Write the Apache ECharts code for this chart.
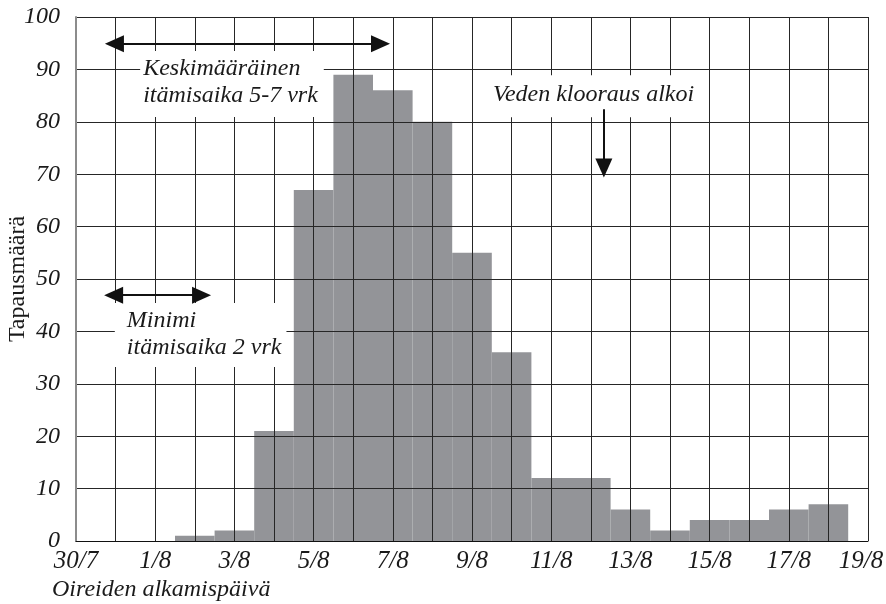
<!DOCTYPE html>
<html>
<head>
<meta charset="utf-8">
<script src="https://cdn.jsdelivr.net/npm/echarts@6/dist/echarts.min.js"></script>
<style>
    html, body {margin: 0; padding: 0; background: #fff;}
    #echart_cases {width: 886px; height: 604px;}
</style>
</head>
<body>
<div id="echart_cases"></div>
<script>
// päivät (x-akseli), 30/7 ... 19/8
var days = ['30/7','31/7','1/8','2/8','3/8','4/8','5/8','6/8','7/8','8/8','9/8','10/8',
            '11/8','12/8','13/8','14/8','15/8','16/8','17/8','18/8','19/8'];
// tapausmäärä per oireiden alkamispäivä
var cases = [0, 0, 0, 1, 2, 21, 67, 89, 86, 80, 55, 36, 12, 12, 6, 2, 4, 4, 6, 7, 0];

var serif = '"Liberation Serif", "DejaVu Serif", serif';

initCasesChart();

//初始化 histogram
function initCasesChart(){
    var myChart = echarts.init(document.getElementById('echart_cases'));

    var barData = [];
    for (var i = 0; i < days.length; i++) {
        barData.push([i, cases[i]]);
    }

    var noteLabel = {
        show: true,
        position: 'inside',
        align: 'left',
        verticalAlign: 'top',
        fontFamily: serif,
        fontStyle: 'italic',
        fontSize: 24,
        lineHeight: 27,
        color: '#1a1a1a',
        backgroundColor: '#fff'
    };

    var option = {
        animation: false,
        title: {
            text: 'Oireiden alkamispäivä',
            left: 52,
            top: 578,
            padding: 0,
            textStyle: {
                fontFamily: serif,
                fontStyle: 'italic',
                fontWeight: 'normal',
                fontSize: 24,
                color: '#1a1a1a'
            }
        },
        grid: {
            left: 76,
            right: 18,
            top: 17,
            bottom: 63,
            containLabel: false,
            outerBoundsMode: 'none'
        },
        xAxis: {
            type: 'value',
            min: 0,
            max: 20,
            interval: 1,
            axisLine: {show: true, lineStyle: {color: '#111', width: 1}},
            axisTick: {show: false},
            axisLabel: {
                margin: 8,
                fontFamily: serif,
                fontStyle: 'italic',
                fontSize: 25,
                color: '#1a1a1a',
                formatter: function (v) {
                    if (v % 2 !== 0) {
                        return '';
                    }
                    // viimeinen vähän vasemmalle, ettei leikkaudu
                    return v === days.length - 1 ? '{last|' + days[v] + '}' : days[v];
                },
                rich: {
                    last: {
                        fontFamily: serif,
                        fontStyle: 'italic',
                        fontSize: 25,
                        color: '#1a1a1a',
                        padding: [0, 14, 0, 0]
                    }
                }
            },
            splitLine: {show: true, lineStyle: {color: '#262626', width: 1}}
        },
        yAxis: {
            type: 'value',
            min: 0,
            max: 100,
            interval: 10,
            name: 'Tapausmäärä',
            nameLocation: 'middle',
            nameRotate: 90,
            nameGap: 46,
            nameMoveOverlap: false,
            nameTextStyle: {
                fontFamily: serif,
                fontSize: 24,
                color: '#1a1a1a'
            },
            axisLine: {show: true, lineStyle: {color: '#8c8c8c', width: 2}},
            axisTick: {show: false},
            axisLabel: {
                margin: 16,
                fontFamily: serif,
                fontStyle: 'italic',
                fontSize: 24,
                color: '#1a1a1a'
            },
            splitLine: {show: true, lineStyle: {color: '#262626', width: 1}}
        },
        series: [
            {
                name: 'Tapaukset',
                type: 'custom',
                z: -1,
                encode: {x: 0, y: 1},
                renderItem: function (params, api) {
                    var x = api.value(0);
                    var y = api.value(1);
                    var p = api.coord([x - 0.5, y]);
                    var s = api.size([1, y]);
                    return {
                        type: 'rect',
                        shape: {x: p[0], y: p[1], width: s[0], height: s[1]},
                        style: {fill: '#939498'}
                    };
                },
                data: barData
            },
            {
                // nuolet ja tekstit
                name: 'notes',
                type: 'line',
                data: [],
                markLine: {
                    silent: true,
                    z: 10,
                    symbol: ['triangle', 'triangle'],
                    symbolSize: [17, 19],
                    label: {show: false},
                    lineStyle: {color: '#111', width: 2, type: 'solid'},
                    itemStyle: {color: '#111'},
                    data: [
                        [{coord: [0.97, 94.9]}, {coord: [7.69, 94.9]}],
                        [{coord: [0.95, 46.9]}, {coord: [3.17, 46.9]}],
                        [{coord: [13.33, 82.4], symbol: 'none'}, {coord: [13.33, 71.2], symbol: 'triangle'}]
                    ]
                },
                markPoint: {
                    silent: true,
                    z: 9,
                    symbol: 'rect',
                    symbolSize: 0,
                    data: [
                        {
                            coord: [1.62, 93.5],
                            label: echarts.util.extend({
                                formatter: 'Keskimääräinen\nitämisaika 5-7 vrk',
                                padding: [4, 6, 8, 3]
                            }, noteLabel)
                        },
                        {
                            coord: [0.98, 45.4],
                            label: echarts.util.extend({
                                formatter: 'Minimi\nitämisaika 2 vrk',
                                padding: [4, 5, 6, 12]
                            }, noteLabel)
                        },
                        {
                            coord: [10.30, 88.9],
                            label: echarts.util.extend({
                                formatter: 'Veden klooraus alkoi',
                                padding: [6, 6, 9, 9]
                            }, noteLabel)
                        }
                    ]
                }
            }
        ]
    };

    myChart.setOption(option);
}
</script>
</body>
</html>
